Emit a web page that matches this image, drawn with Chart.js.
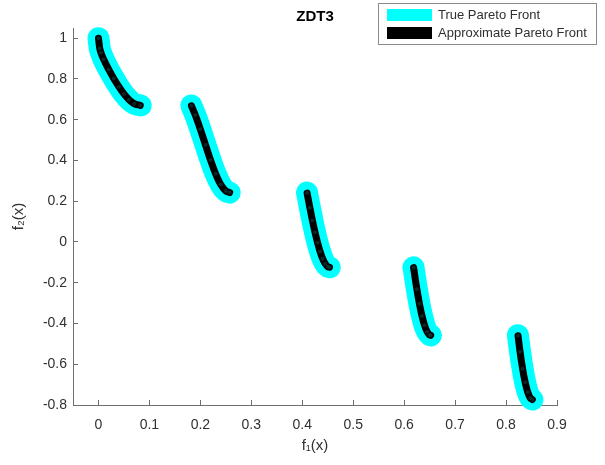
<!DOCTYPE html>
<html>
<head>
<meta charset="utf-8">
<title>ZDT3</title>
<script src="https://cdn.jsdelivr.net/npm/chart.js@4"></script>
<style>
  html, body { margin: 0; padding: 0; background: #fff; }
  #wrap { width: 605px; height: 465px; }
</style>
</head>
<body>
<div id="wrap"><canvas id="zdt3Chart" width="605" height="465"></canvas></div>
<script>
// Series (null = gap between the disconnected parts of the front)
const seriesNames = ['True Pareto Front', 'Approximate Pareto Front'];

const trueF1 = [
  0, 0.0025, 0.005, 0.01, 0.02, 0.03, 0.04, 0.05, 0.06, 0.07, 0.083, null,
  0.1822, 0.19, 0.20, 0.21, 0.22, 0.23, 0.24, 0.25, 0.2578, null,
  0.4093, 0.415, 0.42, 0.425, 0.43, 0.435, 0.44, 0.445, 0.45, 0.4539, null,
  0.6184, 0.625, 0.63, 0.635, 0.64, 0.645, 0.65, 0.6525, null,
  0.8233, 0.8275, 0.8325, 0.8375, 0.8425, 0.8475, 0.8518
];
const trueF2 = [
  1, 0.9498, 0.9285, 0.8969, 0.8468, 0.8025, 0.7620, 0.7264, 0.6980, 0.6788, 0.6697, null,
  0.6698, 0.6228, 0.5528, 0.4768, 0.4017, 0.3343, 0.2818, 0.25, 0.2422, null,
  0.2423, 0.1674, 0.1050, 0.0476, -0.0036, -0.0471, -0.0818, -0.1066, -0.1208, -0.1242, null,
  -0.1243, -0.2325, -0.3034, -0.3627, -0.4087, -0.4402, -0.4562, -0.4583, null,
  -0.4577, -0.5389, -0.6222, -0.6889, -0.7371, -0.7655, -0.7733
];

const approxF1 = [
  0, 0.0025, 0.005, 0.01, 0.02, 0.03, 0.04, 0.05, 0.06, 0.07, 0.082, null,
  0.1825, 0.19, 0.20, 0.21, 0.22, 0.23, 0.24, 0.25, 0.2575, null,
  0.4095, 0.415, 0.42, 0.425, 0.43, 0.435, 0.44, 0.445, 0.45, 0.4535, null,
  0.6185, 0.625, 0.63, 0.635, 0.64, 0.645, 0.65, 0.652, null,
  0.8235, 0.8275, 0.8325, 0.8375, 0.8425, 0.8475, 0.8515
];
const approxF2 = [
  1, 0.9498, 0.9285, 0.8969, 0.8468, 0.8025, 0.7620, 0.7264, 0.6980, 0.6788, 0.6700, null,
  0.6680, 0.6228, 0.5528, 0.4768, 0.4017, 0.3343, 0.2818, 0.25, 0.2425, null,
  0.2400, 0.1674, 0.1050, 0.0476, -0.0036, -0.0471, -0.0818, -0.1066, -0.1208, -0.1240, null,
  -0.1260, -0.2325, -0.3034, -0.3627, -0.4087, -0.4402, -0.4562, -0.4580, null,
  -0.4600, -0.5389, -0.6222, -0.6889, -0.7371, -0.7655, -0.7730
];

const xTicks = [0, 0.1, 0.2, 0.3, 0.4, 0.5, 0.6, 0.7, 0.8, 0.9];
const yTicks = [-0.8, -0.6, -0.4, -0.2, 0, 0.2, 0.4, 0.6, 0.8, 1];

const FONT = "'Liberation Sans', Arial, Helvetica, sans-serif";
const AXIS_GRAY = '#6e6e6e';
const TEXT_GRAY = '#303030';

function toPoints(xs, ys) {
  return xs.map((x, i) => ({ x: x, y: ys[i] }));
}

// MATLAB-style boxed legend drawn in the top right corner
const boxedLegend = {
  id: 'boxedLegend',
  afterDraw(chart) {
    const ctx = chart.ctx;
    const left = 378, top = 3, w = 218, h = 41;
    ctx.save();
    ctx.fillStyle = '#fff';
    ctx.fillRect(left, top, w, h);
    ctx.strokeStyle = '#8a8a8a';
    ctx.lineWidth = 1;
    ctx.strokeRect(left + 0.5, top + 0.5, w, h);
    ctx.font = '13px ' + FONT;
    ctx.textBaseline = 'middle';
    chart.data.datasets.forEach((ds, i) => {
      const rowY = top + 6 + i * 18;
      ctx.fillStyle = ds.borderColor;
      ctx.fillRect(left + 9, rowY, 45, 12);
      ctx.fillStyle = TEXT_GRAY;
      ctx.fillText(ds.label, left + 60, rowY + 6.5);
    });
    ctx.restore();
  }
};

const ctx = document.getElementById('zdt3Chart').getContext('2d');
new Chart(ctx, {
  type: 'line',
  data: {
    datasets: [
      {
        label: seriesNames[0],
        data: toPoints(trueF1, trueF2),
        borderColor: '#00ffff',
        backgroundColor: '#00ffff',
        borderWidth: 22,
        borderCapStyle: 'round',
        borderJoinStyle: 'round',
        cubicInterpolationMode: 'monotone',
        pointRadius: 0,
        spanGaps: false,
        clip: false,
        order: 2
      },
      {
        label: seriesNames[1],
        data: toPoints(approxF1, approxF2),
        borderColor: '#000000',
        backgroundColor: '#000000',
        borderWidth: 7,
        borderCapStyle: 'round',
        borderJoinStyle: 'round',
        cubicInterpolationMode: 'monotone',
        pointRadius: 2,
        pointBorderWidth: 0,
        pointBackgroundColor: 'rgba(20, 70, 70, 0.55)',
        spanGaps: false,
        clip: false,
        order: 1
      }
    ]
  },
  options: {
    responsive: false,
    animation: false,
    layout: { padding: { left: 0, right: 48, top: 0, bottom: 0 } },
    plugins: {
      legend: { display: false },
      tooltip: { enabled: false },
      title: {
        display: true,
        text: 'ZDT3',
        fullSize: false,
        color: '#000',
        font: { family: FONT, size: 15, weight: 'bold', lineHeight: 1.2 },
        padding: { top: 8, bottom: 2 }
      }
    },
    scales: {
      x: {
        type: 'linear',
        min: -0.05,
        max: 0.9,
        afterBuildTicks: (scale) => { scale.ticks = xTicks.map(v => ({ value: v })); },
        afterFit: (scale) => { scale.height = 60; },
        grid: { drawOnChartArea: false, drawTicks: true, tickLength: -5, color: AXIS_GRAY },
        border: { color: AXIS_GRAY, width: 1 },
        ticks: {
          color: TEXT_GRAY,
          padding: 17,
          maxRotation: 0,
          font: { family: FONT, size: 14 },
          callback: (v) => String(Math.round(v * 10) / 10)
        },
        title: {
          display: true,
          text: 'f\u2081(x)',
          color: TEXT_GRAY,
          font: { family: FONT, size: 15 },
          padding: { top: 0, bottom: 10 }
        }
      },
      y: {
        type: 'linear',
        min: -0.8,
        max: 1.05,
        afterBuildTicks: (scale) => { scale.ticks = yTicks.map(v => ({ value: v })); },
        afterFit: (scale) => { scale.width = 73; },
        grid: { drawOnChartArea: false, drawTicks: true, tickLength: -5, color: AXIS_GRAY },
        border: { color: AXIS_GRAY, width: 1 },
        ticks: {
          color: TEXT_GRAY,
          padding: 11,
          font: { family: FONT, size: 14 },
          callback: (v) => String(Math.round(v * 10) / 10)
        },
        title: {
          display: true,
          text: 'f\u2082(x)',
          color: TEXT_GRAY,
          font: { family: FONT, size: 15 },
          padding: { top: 10, bottom: 0 }
        }
      }
    }
  },
  plugins: [boxedLegend]
});
</script>
</body>
</html>
